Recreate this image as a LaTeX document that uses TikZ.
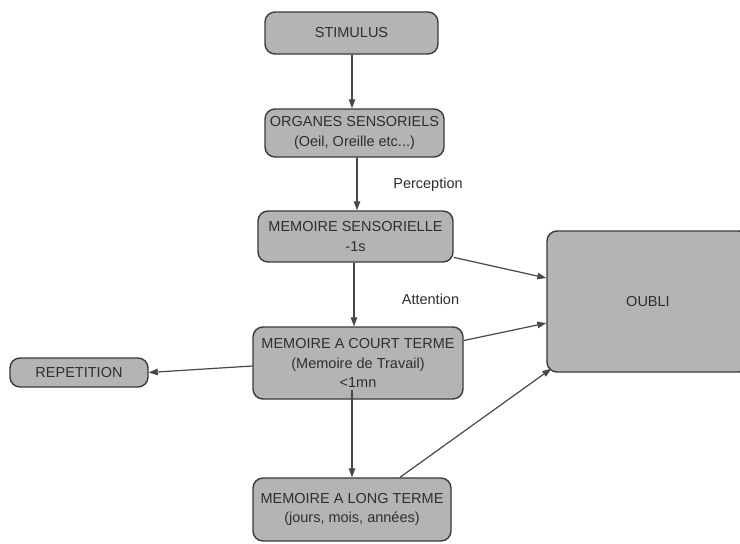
\documentclass[tikz,border=0pt]{standalone}
\usepackage{fontspec}
\setmainfont{Liberation Sans}
\usetikzlibrary{arrows.meta,calc}
\definecolor{boxfill}{HTML}{B4B4B4}
\definecolor{boxline}{HTML}{3A3A3A}
\definecolor{linkline}{HTML}{484848}
\definecolor{txt}{HTML}{2E2E2E}
\tikzset{
  box/.style={draw=boxline, fill=boxfill, line width=1.4pt, rounded corners=10pt,
    inner sep=0pt, align=center, text=txt, font=\fontsize{14.5}{19.5}\selectfont},
  link/.style={draw=linkline, line width=1.2pt, -{Triangle[length=9pt,width=6.5pt]}},
  lbl/.style={text=txt, font=\fontsize{14.5}{17}\selectfont, inner sep=0pt}
}
\begin{document}
\begin{tikzpicture}[x=1pt,y=-1pt]
\useasboundingbox (0,0) rectangle (740,544);
\fill[white] (0,0) rectangle (740,544);

% memory model boxes
\node[box, minimum width=173pt, minimum height=42pt] (stim) at (351.5,33) {STIMULUS};
\node[box, minimum width=179pt, minimum height=48pt] (org) at (354.5,133)
  {ORGANES SENSORIELS\\(Oeil, Oreille etc...)};
\node[box, minimum width=195pt, minimum height=51pt] (ms) at (355.5,236.5)
  {MEMOIRE SENSORIELLE\\-1s};
\node[box, minimum width=210pt, minimum height=72pt] (mct) at (358,363)
  {MEMOIRE A COURT TERME\\(Memoire de Travail)\\<1mn};
\node[box, minimum width=198pt, minimum height=63pt] (mlt) at (352,509.5)
  {MEMOIRE A LONG TERME\\(jours, mois, années)};
\node[box, minimum width=138pt, minimum height=29pt] (rep) at (79,372.5) {REPETITION};
\node[box, minimum width=202pt, minimum height=141pt] (oubli) at (648,301.5) {OUBLI};

% edge labels
\node[lbl] (perc) at (428,185) {Perception};
\node[lbl] (att) at (430.5,299) {Attention};

% connectors
\draw[link] ($(stim.south)+(0.5,0)$) -- ($(org.north)+(-2.5,0)$);
\draw[link] ($(org.south)+(2.5,0)$) -- ($(ms.north)+(1.5,0)$);
\draw[link] ($(ms.south)+(-1.5,0)$) -- ($(mct.north)+(-4,0)$);
\draw[link] ($(mct.south)+(-6,-10)$) -- (mlt.north);
\draw[link] ($(mct.west)+(0,3)$) -- (rep.east);
\draw[link] (ms.-12.4) -- (oubli.167.4);
\draw[link] (mct.12.4) -- (oubli.-168);
\draw[link] ($(mlt.north)+(48,0)$) -- ($(oubli.south west)+(5,-4)$);
\end{tikzpicture}
\end{document}
